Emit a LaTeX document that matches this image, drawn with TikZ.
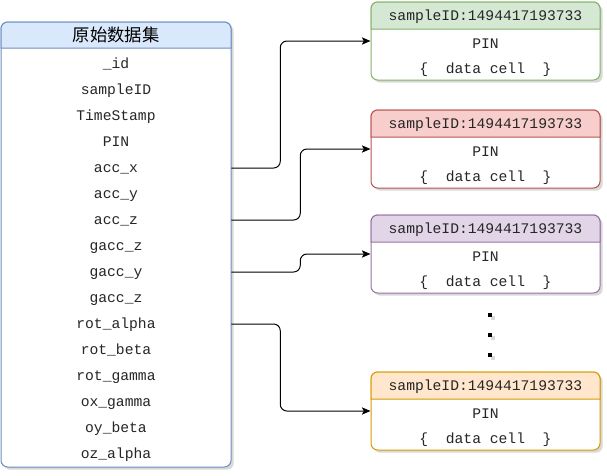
\documentclass[tikz,border=0pt]{standalone}
\usepackage{fontspec}
\setmonofont{Liberation Mono}
\newfontfamily\cjk{Noto Sans CJK SC}
\usetikzlibrary{shadows,arrows.meta}
\definecolor{bluefill}{HTML}{DAE8FC}\definecolor{bluedraw}{HTML}{6C8EBF}
\definecolor{greenfill}{HTML}{D5E8D4}\definecolor{greendraw}{HTML}{82B366}
\definecolor{redfill}{HTML}{F8CECC}\definecolor{reddraw}{HTML}{B85450}
\definecolor{purplefill}{HTML}{E1D5E7}\definecolor{purpledraw}{HTML}{9673A6}
\definecolor{orangefill}{HTML}{FFE6CC}\definecolor{orangedraw}{HTML}{D79B00}
\tikzset{
  shad/.style={drop shadow={shadow xshift=2pt,shadow yshift=-2pt,opacity=0.25,fill=black!60}},
  srcbox/.style={draw=bluedraw,fill=white,line width=0.75pt,rounded corners=5pt,
    minimum width=172.5pt,minimum height=333.75pt,shad},
  dbox/.style={fill=white,line width=0.75pt,rounded corners=5pt,
    minimum width=171.75pt,minimum height=58.5pt,shad},
  hdr/.style={line width=0.75pt},
  ttf/.style={font=\ttfamily\fontsize{11}{13}\selectfont,inner sep=0pt,anchor=base,text=black!85},
  field/.style={ttf,minimum width=172.5pt},
  conn/.style={draw=black,line width=0.75pt,rounded corners=5pt,-{Stealth[length=6.5pt,width=5.5pt,inset=1.5pt]}},
  dotsq/.style={fill=black,minimum size=3pt,inner sep=0pt,shad}
}
\newcommand\databox[4]{%
  \node[dbox,draw=#4] (#1) at (485.5,#2+39) {};
  \draw[hdr,fill=#3,draw=#4] (371,#2+27) [rounded corners=5pt] -- (371,#2) -- (600,#2) [sharp corners] -- (600,#2+27) -- cycle;
  \node[ttf] (#1h) at (485.5,#2+18) {sampleID:1494417193733};
  \node[ttf] (#1p) at (485.5,#2+46) {PIN};
  \node[ttf] (#1d) at (485.5,#2+71) {\{~~data cell~~\}};
}
\begin{document}
\begin{tikzpicture}[x=0.75pt,y=-0.75pt]
\useasboundingbox (0,0) rectangle (607,475);
% source table
\node[srcbox] (src) at (116,244.5) {};
\draw[hdr,fill=bluefill,draw=bluedraw] (1,48) [rounded corners=5pt] -- (1,22) -- (231,22) [sharp corners] -- (231,48) -- cycle;
\node[inner sep=0pt,font=\cjk\fontsize{13}{15}\selectfont] (title) at (116,35) {原始数据集};
\foreach \t [count=\i] in {\_id,sampleID,TimeStamp,PIN,acc\_x,acc\_y,acc\_z,gacc\_z,gacc\_y,gacc\_z,rot\_alpha,rot\_beta,rot\_gamma,ox\_gamma,oy\_beta,oz\_alpha}
  \node[field] (f\i) at (116,42+26*\i) {\t};
% data boxes
\databox{ba}{2}{greenfill}{greendraw}
\databox{bb}{110}{redfill}{reddraw}
\databox{bc}{215}{purplefill}{purpledraw}
\databox{bd}{372}{orangefill}{orangedraw}
% dots
\node[dotsq] (d1) at (490,315) {};
\node[dotsq] (d2) at (490,335) {};
\node[dotsq] (d3) at (490,355) {};
% connectors
\draw[conn] ([yshift=3pt]f5.base east) -- ++(49,0) |- (ba.west);
\draw[conn] ([yshift=3pt]f7.base east) -- ++(69,0) |- (bb.west);
\draw[conn] ([yshift=3pt]f9.base east) -- ++(69,0) |- (bc.west);
\draw[conn] ([yshift=3pt]f11.base east) -- ++(49,0) |- (bd.west);
\end{tikzpicture}
\end{document}
